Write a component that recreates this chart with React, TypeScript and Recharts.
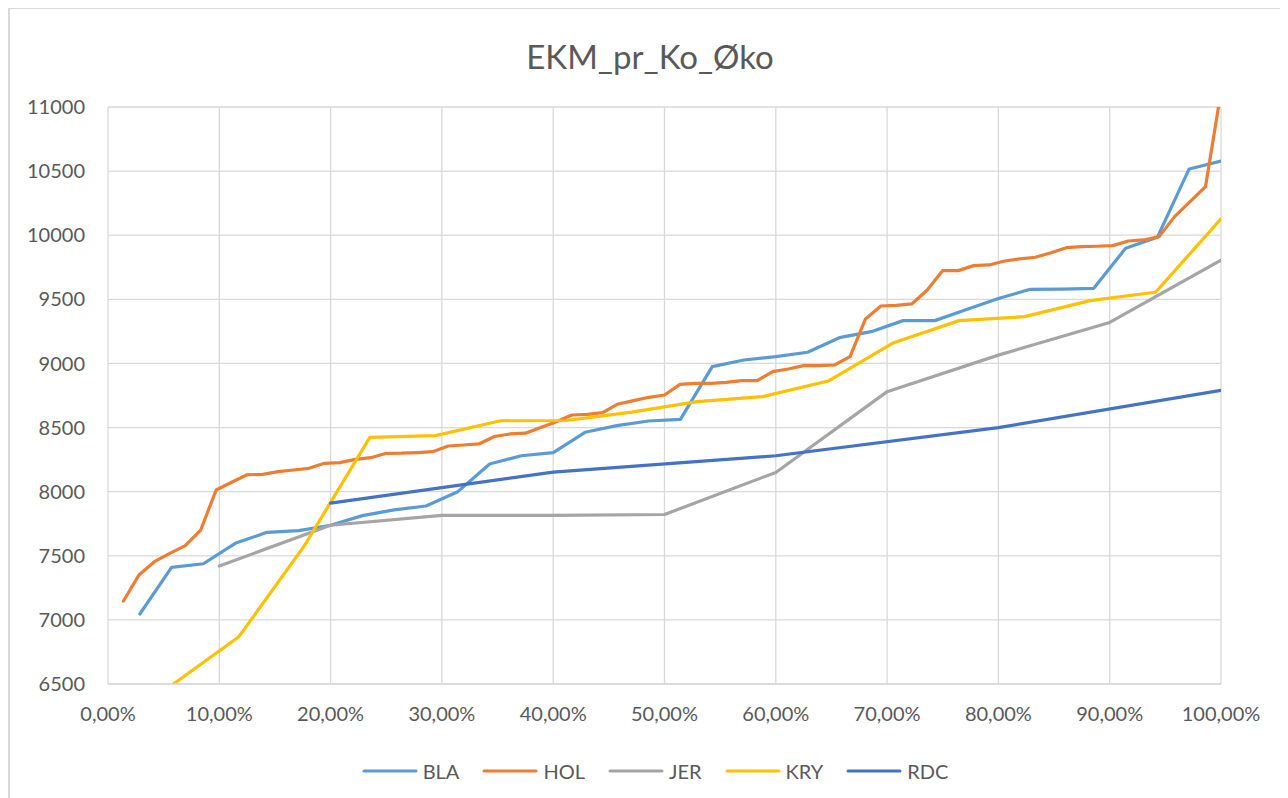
import React from "react";
import { LineChart, Line, XAxis, YAxis, CartesianGrid, Legend } from "recharts";

// ---- data (x in percent, y values) ----
const blaX = [2.86, 5.71, 8.57, 11.43, 14.29, 17.14, 20.0, 22.86, 25.71, 28.57, 31.43, 34.29, 37.14, 40.0, 42.86, 45.71, 48.57, 51.43, 54.29, 57.14, 60.0, 62.86, 65.71, 68.57, 71.43, 74.29, 77.14, 80.0, 82.86, 85.71, 88.57, 91.43, 94.29, 97.14, 100];
const blaY = [7046, 7410, 7438, 7597, 7683, 7696, 7738, 7813, 7858, 7888, 8000, 8216, 8280, 8304, 8463, 8515, 8551, 8564, 8975, 9027, 9053, 9087, 9201, 9248, 9334, 9334, 9420, 9507, 9578, 9580, 9586, 9898, 9985, 10517, 10579];

const holX = [1.39, 2.78, 4.17, 5.56, 6.94, 8.33, 9.72, 11.11, 12.5, 13.89, 15.28, 16.67, 18.06, 19.44, 20.83, 22.22, 23.61, 25.0, 26.39, 27.78, 29.17, 30.56, 31.94, 33.33, 34.72, 36.11, 37.5, 38.89, 40.28, 41.67, 43.06, 44.44, 45.83, 47.22, 48.61, 50.0, 51.39, 52.78, 54.17, 55.56, 56.94, 58.33, 59.72, 61.11, 62.5, 63.89, 65.28, 66.67, 68.06, 69.44, 70.83, 72.22, 73.61, 75.0, 76.39, 77.78, 79.17, 80.56, 81.94, 83.33, 84.72, 86.11, 87.5, 88.89, 90.28, 91.67, 93.06, 94.44, 95.83, 97.22, 98.61, 100];
const holY = [7147, 7350, 7454, 7519, 7579, 7701, 8013, 8073, 8132, 8135, 8156, 8169, 8182, 8221, 8226, 8252, 8265, 8299, 8300, 8305, 8312, 8356, 8364, 8372, 8430, 8450, 8456, 8500, 8546, 8598, 8603, 8616, 8684, 8710, 8736, 8754, 8837, 8845, 8845, 8853, 8866, 8866, 8936, 8957, 8983, 8983, 8988, 9053, 9347, 9448, 9453, 9464, 9573, 9724, 9724, 9763, 9768, 9799, 9815, 9828, 9864, 9903, 9911, 9914, 9919, 9955, 9963, 9989, 10145, 10262, 10379, 11120];

const jerX = [10, 20, 30, 40, 50, 60, 70, 80, 90, 100];
const jerY = [7420, 7738, 7815, 7815, 7822, 8150, 8780, 9065, 9320, 9805];

const kryX = [5.88, 11.76, 17.65, 23.53, 29.41, 35.29, 41.18, 47.06, 52.94, 58.82, 64.71, 70.59, 76.47, 82.35, 88.24, 94.12, 100];
const kryY = [6500, 6869, 7579, 8424, 8437, 8553, 8555, 8620, 8702, 8741, 8863, 9162, 9334, 9365, 9490, 9555, 10127];

const rdcX = [20, 40, 60, 80, 100];
const rdcY = [7910, 8152, 8280, 8500, 8790];

const xTicks = [0, 10, 20, 30, 40, 50, 60, 70, 80, 90, 100];
const yTicks = [6500, 7000, 7500, 8000, 8500, 9000, 9500, 10000, 10500, 11000];

const seriesNames = ["BLA", "HOL", "JER", "KRY", "RDC"];
const seriesColors = ["#5B9BD5", "#ED7D31", "#A5A5A5", "#FFC000", "#4472C4"];
const title = "EKM_pr_Ko_Øko";

const toPoints = (xs: number[], ys: number[]) => xs.map((x, i) => ({ x, y: ys[i] }));
const seriesData = [
  toPoints(blaX, blaY),
  toPoints(holX, holY),
  toPoints(jerX, jerY),
  toPoints(kryX, kryY),
  toPoints(rdcX, rdcY),
];

const FONT = "Lato, 'Open Sans', sans-serif";
const TXT = "#595959";

const fmtPct = (v: number) => v.toFixed(2).replace(".", ",") + "%";

const LegendContent = (props: any) => {
  const payload = props.payload || [];
  return (
    <div style={{ display: "flex", justifyContent: "center", alignItems: "center", fontFamily: FONT, fontSize: 20, color: TXT, paddingLeft: 14, height: 24 }}>
      {payload.map((p: any, i: number) => (
        <div key={i} style={{ display: "flex", alignItems: "center", marginRight: i < payload.length - 1 ? 23 : 0 }}>
          <svg width={56} height={6}>
            <line x1={2} y1={3} x2={54} y2={3} stroke={p.color} strokeWidth={3} strokeLinecap="round" />
          </svg>
          <span style={{ marginLeft: 5 }}>{p.value}</span>
        </div>
      ))}
    </div>
  );
};

export default function App() {
  return (
    <div style={{ position: "relative", width: 1280, height: 790 }}>
      <div style={{ position: "absolute", left: 0, top: 0, width: 1280, height: 1, background: "#D9D9D9" }} />
      <div style={{ position: "absolute", left: 0, top: 0, width: 2, height: 790, background: "#D9D9D9" }} />
      <div style={{ position: "absolute", left: -8, top: -1, width: 640, height: 1, background: "#000" }} />
      <div style={{ position: "absolute", left: -8, top: -1, width: 6, height: 3, background: "#000" }} />
      <div style={{ position: "absolute", left: 0, top: 28, width: 1284, textAlign: "center", fontFamily: FONT, fontSize: 33, color: TXT, lineHeight: "40px" }}>
        {title}
      </div>
      <LineChart width={1280} height={790} margin={{ top: 99, right: 67, left: 0, bottom: 64 }}>
        <CartesianGrid stroke="#D9D9D9" strokeWidth={1.3} verticalPoints={undefined} />
        <XAxis
          type="number"
          dataKey="x"
          domain={[0, 100]}
          ticks={xTicks}
          interval={0}
          tickFormatter={fmtPct}
          tickLine={false}
          tickSize={0}
          tickMargin={23}
          height={50}
          axisLine={{ stroke: "#D9D9D9", strokeWidth: 1.3 }}
          tick={{ fill: TXT, fontSize: 20, fontFamily: FONT }}
          allowDataOverflow
        />
        <YAxis
          type="number"
          dataKey="y"
          domain={[6500, 11000]}
          ticks={yTicks}
          interval={0}
          allowDataOverflow
          width={100}
          tickLine={false}
          tickSize={0}
          tickMargin={23}
          axisLine={false}
          tick={{ fill: TXT, fontSize: 20, fontFamily: FONT }}
        />
        <Legend
          layout="horizontal"
          verticalAlign="middle"
          align="center"
          content={<LegendContent />}
          wrapperStyle={{ position: "absolute", top: 751, left: 0, width: 1280, height: 24 }}
        />
        {seriesNames.map((name, i) => (
          <Line
            key={name}
            name={name}
            data={seriesData[i]}
            dataKey="y"
            type="linear"
            stroke={seriesColors[i]}
            strokeWidth={3.2}
            strokeLinejoin="round"
            strokeLinecap="round"
            dot={false}
            activeDot={false}
            isAnimationActive={false}
          />
        ))}
      </LineChart>
    </div>
  );
}
